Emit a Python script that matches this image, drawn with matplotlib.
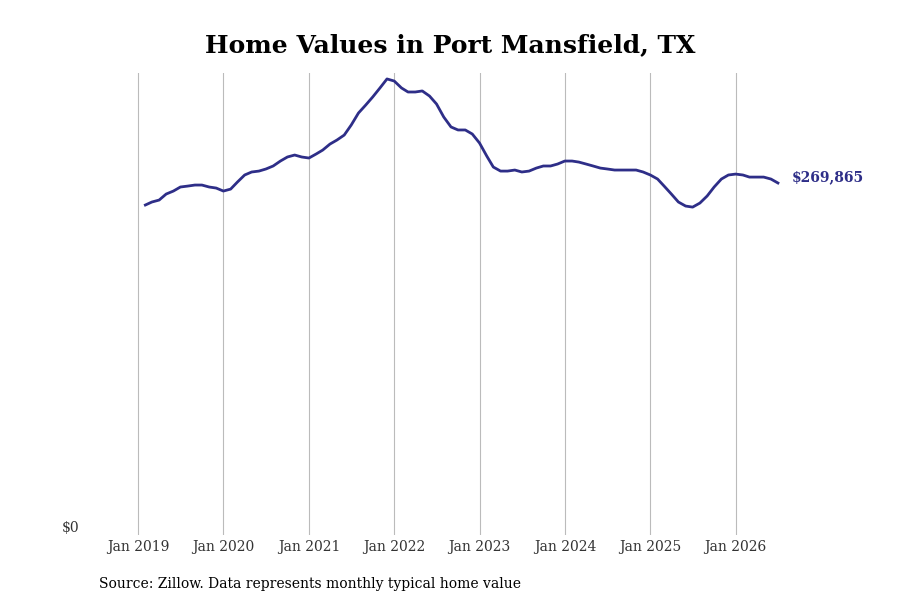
import pandas as pd
import matplotlib.pyplot as plt

plt.rcParams['font.family'] = 'DejaVu Serif'

dates = pd.date_range("2019-02-01", "2026-07-01", freq="MS")
values = [
    253000, 255300, 256800, 261400, 263700, 266800, 267500, 268300, 268300, 266800, 266000,
    263700, 265200, 270600, 276000, 278300, 279000, 280600, 282900, 286700, 289800, 291300, 289800,
    289000, 292100, 295100, 299700, 302800, 306600, 314300, 323500, 329600, 335800, 342700, 349600,
    348000, 342700, 339600, 339600, 340400, 336500, 330400, 320400, 312800, 310500, 310500, 307400,
    300500, 290500, 282100, 279000, 279000, 279800, 278300, 279000, 281300, 282900, 282900, 284400,
    286700, 286700, 285900, 284400, 282900, 281300, 280600, 279800, 279800, 279800, 279800, 278300,
    276000, 272900, 267500, 261400, 255300, 252200, 251400, 254500, 259900, 266800, 272900, 276000,
    276700, 276000, 274400, 274400, 274400, 272900, 269865,
]
years = list(range(2019, 2027))

fig = plt.figure(figsize=(9, 6), dpi=100)
ax = fig.add_axes([0.1345, 0.108, 0.76, 0.77])
ax.plot(dates, values, color="#2e2e88", lw=2)
ax.set_ylim(0, 354000)
ax.set_xlim(pd.Timestamp("2018-10-20"), pd.Timestamp("2026-10-25"))
ticks = [pd.Timestamp(f"{y}-01-01") for y in years]
ax.set_xticks(ticks)
ax.set_xticklabels([f"Jan {y}" for y in years], fontsize=10, color="#333333")
ax.set_yticks([0])
ax.set_yticklabels(["$0"], fontsize=10, color="#333333", va="bottom")
ax.tick_params(length=0)
ax.tick_params(axis="y", pad=30)
ax.grid(axis="x", color="#bbbbbb", lw=0.8)
for s in ax.spines.values():
    s.set_visible(False)
ax.annotate(f"${values[-1]:,}", (dates[-1], values[-1]), xytext=(10, 4),
            textcoords="offset points", color="#2e2e88", fontsize=10,
            fontweight="bold", va="center")
fig.suptitle("Home Values in Port Mansfield, TX", fontsize=18, fontweight="bold", y=0.945)
fig.text(0.11, 0.02, "Source: Zillow. Data represents monthly typical home value", fontsize=10)
fig.savefig("out.png")
